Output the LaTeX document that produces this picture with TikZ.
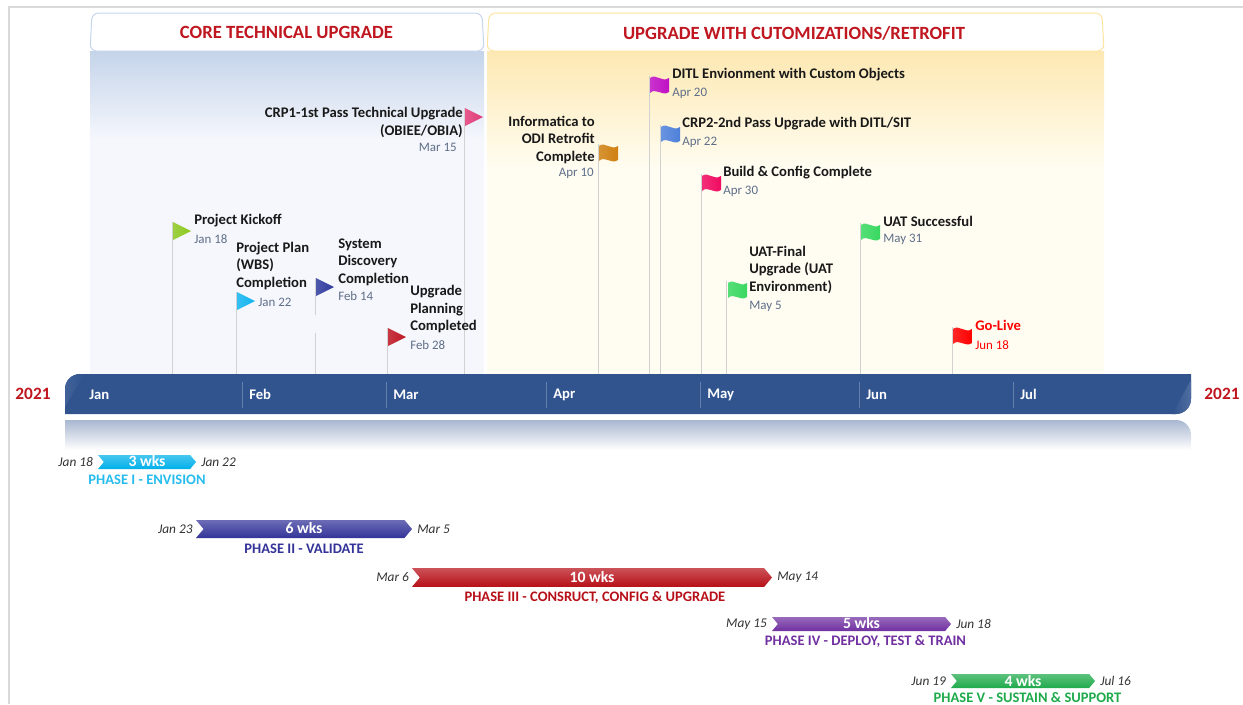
\documentclass[tikz,border=0pt]{standalone}
\usepackage{fontspec}
\setmainfont{Carlito}
\usetikzlibrary{positioning,shapes.symbols,calc}
\definecolor{barblue}{HTML}{31548F}
\definecolor{datgray}{HTML}{5F6E88}
\definecolor{headred}{HTML}{C0161F}
\definecolor{phcyan}{HTML}{00B0EA}
\definecolor{phnavy}{HTML}{333399}
\definecolor{phred}{HTML}{B70F17}
\definecolor{phpurp}{HTML}{7030A0}
\definecolor{phgreen}{HTML}{1EAA4B}
\definecolor{coretop}{HTML}{C5D4EA}
\definecolor{corelow}{HTML}{F5F7FC}
\definecolor{coreline}{HTML}{C6D5EE}
\definecolor{retrotop}{HTML}{FDE8B2}
\definecolor{retrolow}{HTML}{FFFDF2}
\definecolor{retroline}{HTML}{FDE4A0}
\definecolor{flaglime}{HTML}{8CC820}
\definecolor{flagsky}{HTML}{12B4F0}
\definecolor{flagnavy}{HTML}{2E3A9E}
\definecolor{flagred}{HTML}{BE1622}
\definecolor{flagpink}{HTML}{E03C78}
\definecolor{flagamber}{HTML}{CF8010}
\definecolor{flagviolet}{HTML}{C010C4}
\definecolor{flagblue}{HTML}{4E80DA}
\definecolor{flagrose}{HTML}{F00A60}
\definecolor{flagmint}{HTML}{38D860}
\tikzset{
    panelhead/.style={
        rounded corners=5pt,
        fill=white,
        line width=0.75pt
    },
    paneltitle/.style={
        text=headred,
        font=\fontsize{14}{16}\selectfont\bfseries
    },
    stem/.style={
        draw=black!18,
        line width=0.6pt
    },
    milestone/.style={
        anchor=west,
        align=left,
        inner sep=0pt,
        yshift=-0.5pt,
        text=black!90,
        font=\fontsize{11}{13.1}\selectfont\bfseries
    },
    stamp/.style={
        anchor=west,
        inner sep=0pt,
        yshift=-0.5pt,
        text=datgray,
        font=\fontsize{9.7}{11}\selectfont
    },
    month/.style={
        anchor=west,
        inner sep=0pt,
        text=white,
        font=\fontsize{11}{12}\selectfont\bfseries
    },
    yearlabel/.style={
        inner sep=0pt,
        text=headred,
        font=\fontsize{13}{15}\selectfont\bfseries
    },
    phasebar/.style={
        signal,
        signal from=west,
        signal to=east,
        signal pointer angle=100,
        inner sep=0pt,
        outer sep=0pt,
        draw=none,
        text=white,
        top color=#1!72!white,
        middle color=#1,
        bottom color=#1,
        font=\fontsize{11.8}{12}\selectfont\bfseries
    },
    phasename/.style={
        below=4.4pt of #1,
        inner sep=0pt,
        font=\fontsize{10.9}{12}\selectfont\bfseries
    },
    phasedate/.style={
        inner sep=0pt,
        text=black!80,
        font=\fontsize{10}{11}\selectfont\itshape
    },
    flagfill/.style={
        left color=#1!85!white,
        right color=#1
    },
    triflag/.pic={
        \path[pic actions] (0,0) -- (18,9) -- (0,18) -- cycle;
    },
    waveflag/.pic={
        \path[pic actions] (0,2) .. controls (6,-3) and (12,7) .. (19,2)
            -- (19,16) .. controls (12,21) and (6,11) .. (0,17) -- cycle;
    },
}

\begin{document}
\begin{tikzpicture}[x=0.75pt, y=-0.75pt, node distance=3.75pt and 3.75pt]
    \useasboundingbox (0,0) rectangle (1243,704);

    % outer frame
    \draw[black!15, line width=1.5pt] (9,704) -- (9,7) -- (1243,7);

    % panels
    \shade[top color=coretop, bottom color=corelow] (90,51) rectangle (484,140);
    \fill[corelow] (90,140) rectangle (484,374);
    \shade[top color=retrotop, bottom color=retrolow] (487,51) rectangle (1104,170);
    \fill[retrolow] (487,170) rectangle (1104,374);
    \draw[panelhead, draw=coreline] (90,51) -- (92,13) -- (482,13) -- (484,51) -- cycle;
    \draw[panelhead, draw=retroline] (487,51) -- (489,13) -- (1102,13) -- (1104,51) -- cycle;
    \node[paneltitle] (coretitle) at (286.5,32) {CORE TECHNICAL UPGRADE};
    \node[paneltitle] (retrotitle) at (794,33) {UPGRADE WITH CUTOMIZATIONS/RETROFIT};

    % flag positions
    \coordinate (barline) at (0,374);
    \coordinate (kickoff) at (172,222);
    \coordinate (plan) at (236,292);
    \coordinate (discovery) at (315,278);
    \coordinate (planning) at (387,328);
    \coordinate (crpone) at (464,108);
    \coordinate (odi) at (598,144);
    \coordinate (ditl) at (649,76);
    \coordinate (crptwo) at (660,125);
    \coordinate (build) at (701,174);
    \coordinate (uatfinal) at (726,281);
    \coordinate (uatok) at (860,223);
    \coordinate (golive) at (952,327);

    % stems
    \foreach \flag in {kickoff,plan,planning,crpone,odi,ditl,crptwo,build,uatfinal,uatok,golive}
        \draw[stem] (\flag) -- (\flag |- barline);
    \draw[stem] (discovery) -- ++(0,37);
    \draw[stem] (discovery |- barline) -- ++(0,-41);

    % timeline bar
    \fill[barblue] (65,414) -- (65,389) arc[start angle=180, end angle=270, radius=15] -- (1191,374)
        -- (1191,399) arc[start angle=0, end angle=90, radius=15] -- cycle;
    \shade[left color=barblue, right color=barblue!85!white] (1172,414) -- (1191,380) -- (1191,399) arc[start angle=0, end angle=90, radius=15] -- cycle;
    \shade[left color=barblue!92!white, right color=barblue] (65,407) -- (84,374) -- (80,374) arc[start angle=270, end angle=180, radius=15] -- cycle;
    \shade[top color=barblue!42!white, bottom color=white] (65,420) -- (1176,420) arc[start angle=-90, end angle=0, radius=15] -- (1191,450) -- (65,450) -- cycle;

    % months
    \node[month] (mJan) at (89,394.5) {Jan};
    \foreach \mname/\xpos in {Feb/242,Mar/386,Apr/546,May/700,Jun/859,Jul/1013} {
        \draw[barblue!75!white, line width=0.6pt] (\xpos,382) -- (\xpos,408);
        \node[month] (m\mname) at (\xpos+7,394.5) {\mname};
    }
    \node[yearlabel] (yearleft) at (33,394) {2021};
    \node[yearlabel] (yearright) at (1222,394) {2021};

    % flags
    \pic[flagfill=flaglime] at ($(kickoff)+(1,0)$) {triflag};
    \pic[flagfill=flagsky] at ($(plan)+(1,0)$) {triflag};
    \pic[flagfill=flagnavy] at ($(discovery)+(1,0)$) {triflag};
    \pic[flagfill=flagred] at ($(planning)+(1,0)$) {triflag};
    \pic[flagfill=flagpink] at ($(crpone)+(1,0)$) {triflag};
    \pic[flagfill=flagamber] at ($(odi)+(1,0)$) {waveflag};
    \pic[flagfill=flagviolet] at ($(ditl)+(1,0)$) {waveflag};
    \pic[flagfill=flagblue] at ($(crptwo)+(1,0)$) {waveflag};
    \pic[flagfill=flagrose] at ($(build)+(1,0)$) {waveflag};
    \pic[flagfill=flagmint] at ($(uatfinal)+(2,0)$) {waveflag};
    \pic[flagfill=flagmint] at ($(uatok)+(1,0)$) {waveflag};
    \pic[flagfill=red] at ($(golive)+(1,0)$) {waveflag};

    % milestone texts
    \node[milestone] (tkickoff) at (194,219.5) {Project Kickoff};
    \node[stamp] (dkickoff) at (194,238.5) {Jan 18};
    \node[milestone] (tplan) at (236,265) {Project Plan\\(WBS)\\Completion};
    \node[stamp] (dplan) at (258,302) {Jan 22};
    \node[milestone] (tdiscovery) at (338,261.5) {System\\Discovery\\Completion};
    \node[stamp] (ddiscovery) at (338,295) {Feb 14};
    \node[milestone] (tplanning) at (410,308.5) {Upgrade\\Planning\\Completed};
    \node[stamp] (dplanning) at (410,344) {Feb 28};
    \node[milestone, anchor=east, align=right] (tcrpone) at (463,122) {CRP1-1st Pass Technical Upgrade\\(OBIEE/OBIA)};
    \node[stamp, anchor=east] (dcrpone) at (457,147) {Mar 15};
    \node[milestone, anchor=east, align=right] (todi) at (595,139) {Informatica to\\ODI Retrofit\\Complete};
    \node[stamp, anchor=east] (dodi) at (594,173) {Apr 10};
    \node[milestone] (tditl) at (672,73.5) {DITL Envionment with Custom Objects};
    \node[stamp] (dditl) at (672,93) {Apr 20};
    \node[milestone] (tcrptwo) at (682,122.5) {CRP2-2nd Pass Upgrade with DITL/SIT};
    \node[stamp] (dcrptwo) at (682,142) {Apr 22};
    \node[milestone] (tbuild) at (723,171.5) {Build \& Config Complete};
    \node[stamp] (dbuild) at (723,191) {Apr 30};
    \node[milestone] (tuatfinal) at (749,269) {UAT-Final\\Upgrade (UAT\\Environment)};
    \node[stamp] (duatfinal) at (749,306) {May 5};
    \node[milestone] (tuatok) at (883,220.5) {UAT Successful};
    \node[stamp] (duatok) at (883,238.5) {May 31};
    \node[milestone, text=red] (tgolive) at (975,325) {Go-Live};
    \node[stamp, text=red] (dgolive) at (975,344) {Jun 18};

    % phases
    \node[phasebar=phcyan, minimum width=73.5pt, minimum height=10.5pt] (phaseone) at (147,462) {\raisebox{1pt}{3 wks}};
    \node[phasedate, left=8pt of phaseone] (phaseonestart) {Jan 18};
    \node[phasedate, right=of phaseone] (phaseoneend) {Jan 22};
    \node[phasename=phaseone, text=phcyan!85!white] (phaseonename) {PHASE I - ENVISION};

    \node[phasebar=phnavy, minimum width=162pt, minimum height=13.5pt] (phasetwo) at (304,529) {\raisebox{1pt}{6 wks}};
    \node[phasedate, left=8pt of phasetwo] (phasetwostart) {Jan 23};
    \node[phasedate, right=of phasetwo] (phasetwoend) {Mar 5};
    \node[phasename=phasetwo, text=phnavy] (phasetwoname) {PHASE II - VALIDATE};

    \node[phasebar=phred, minimum width=270pt, minimum height=14pt] (phasethree) at (592,577.5) {10 wks};
    \node[phasedate, left=8pt of phasethree] (phasethreestart) {Mar 6};
    \node[phasedate, right=of phasethree] (phasethreeend) {May 14};
    \node[phasename=phasethree, text=phred, xshift=2.2pt, yshift=1.5pt] (phasethreename) {PHASE III - CONSRUCT, CONFIG \& UPGRADE};

    \node[phasebar=phpurp, minimum width=134.25pt, minimum height=10.5pt] (phasefour) at (861.5,624) {\raisebox{1pt}{5 wks}};
    \node[phasedate, left=8pt of phasefour] (phasefourstart) {May 15};
    \node[phasedate, right=of phasefour] (phasefourend) {Jun 18};
    \node[phasename=phasefour, text=phpurp, xshift=3pt, yshift=1.5pt] (phasefourname) {PHASE IV - DEPLOY, TEST \& TRAIN};

    \node[phasebar=phgreen, minimum width=108pt, minimum height=10.5pt] (phasefive) at (1023,681) {4 wks};
    \node[phasedate, left=8pt of phasefive] (phasefivestart) {Jun 19};
    \node[phasedate, right=of phasefive] (phasefiveend) {Jul 16};
    \node[phasename=phasefive, text=phgreen, xshift=3.4pt, yshift=1.5pt] (phasefivename) {PHASE V - SUSTAIN \& SUPPORT};
\end{tikzpicture}
\end{document}
